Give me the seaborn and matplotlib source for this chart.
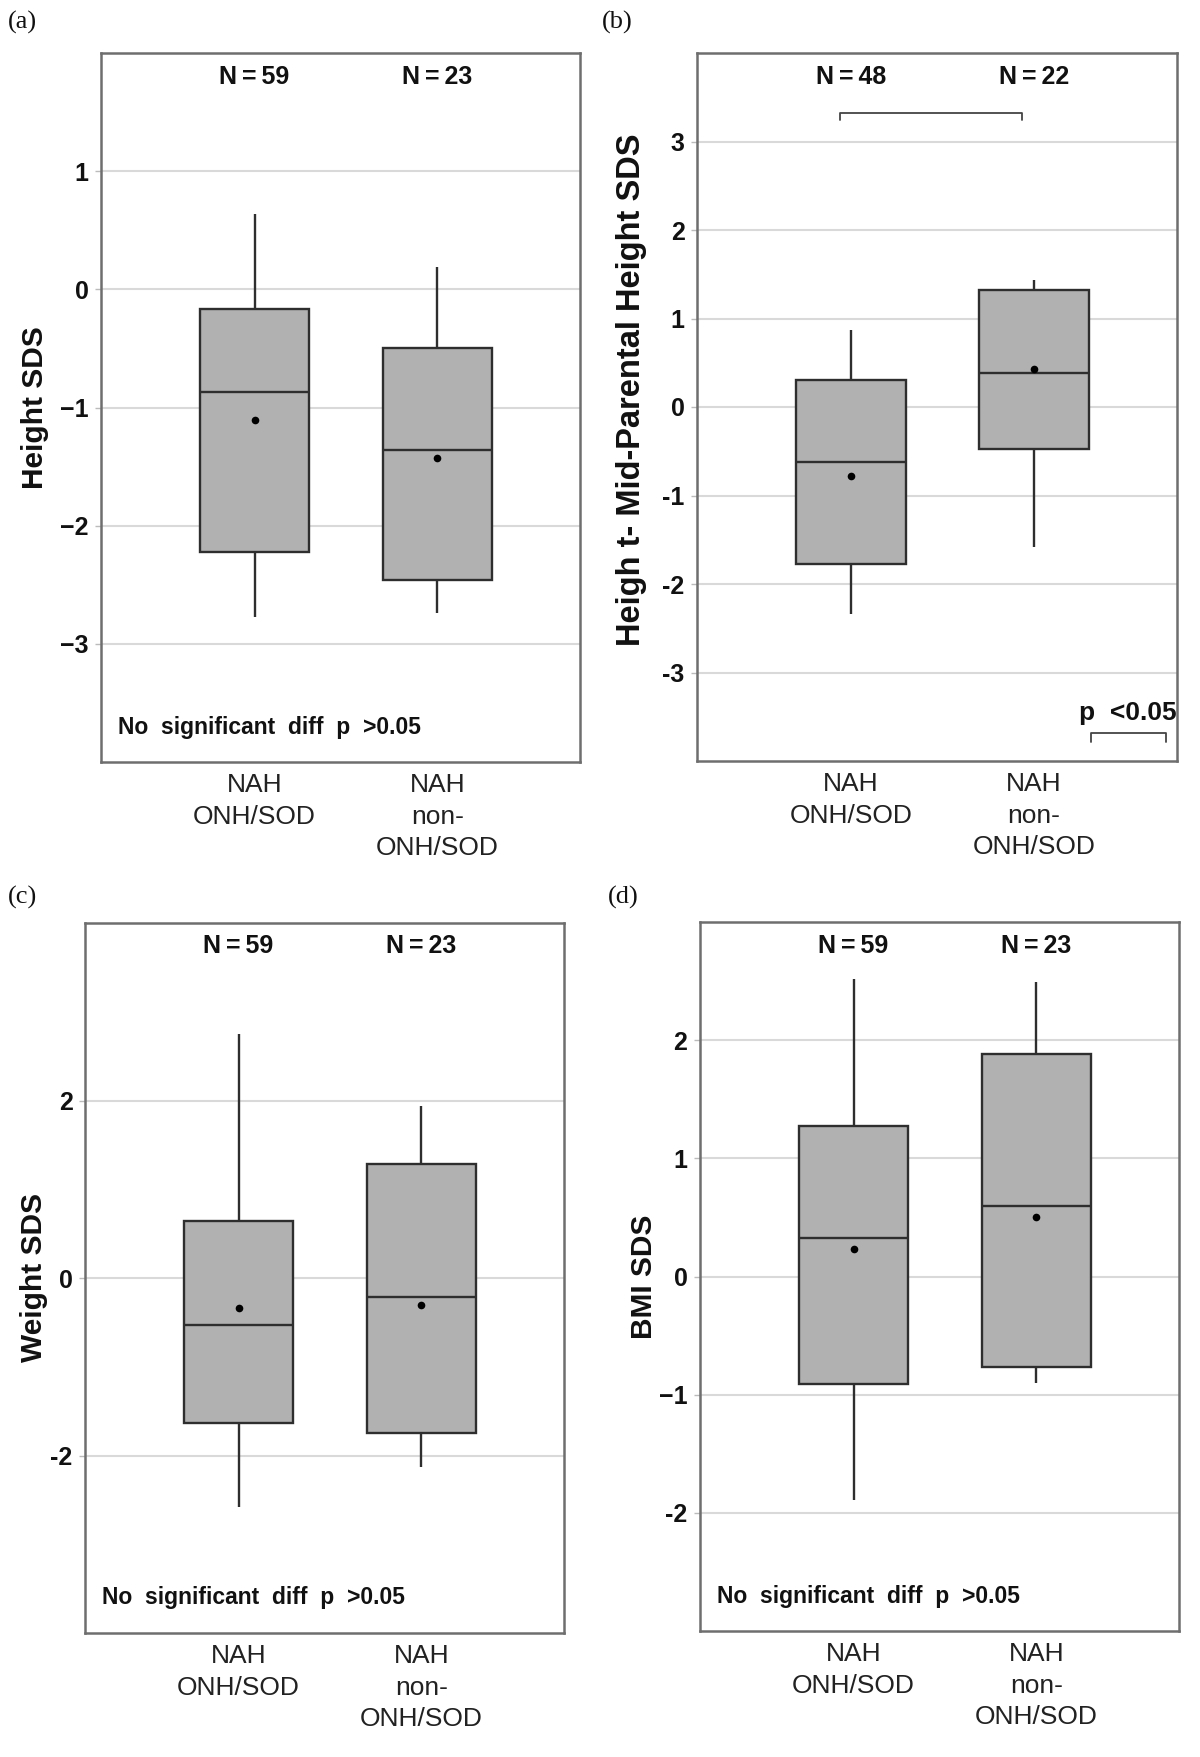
import numpy as np
import pandas as pd
import matplotlib
matplotlib.use("Agg")
import matplotlib.pyplot as plt
import seaborn as sns

# ---------------- data ----------------
groups = ["NAH\nONH/SOD", "NAH\nnon-\nONH/SOD"]

# five-number summaries per group: [whisker low, Q1, median, Q3, whisker high]
height_onh = [-2.77, -2.22, -0.87, -0.17, 0.64]
height_non = [-2.74, -2.46, -1.36, -0.50, 0.19]
height_means = [-1.11, -1.43]
height_n = ["N\u2009=\u200959", "N\u2009=\u200923"]

mph_onh = [-2.34, -1.77, -0.62, 0.31, 0.87]
mph_non = [-1.58, -0.47, 0.38, 1.32, 1.44]
mph_means = [-0.775, 0.425]
mph_n = ["N\u2009=\u200948", "N\u2009=\u200922"]

weight_onh = [-2.58, -1.63, -0.525, 0.645, 2.75]
weight_non = [-2.13, -1.75, -0.21, 1.28, 1.94]
weight_means = [-0.335, -0.30]
weight_n = ["N\u2009=\u200959", "N\u2009=\u200923"]

bmi_onh = [-1.89, -0.91, 0.33, 1.27, 2.52]
bmi_non = [-0.90, -0.77, 0.60, 1.886, 2.495]
bmi_means = [0.235, 0.50]
bmi_n = ["N\u2009=\u200959", "N\u2009=\u200923"]

ylabels = ["Height SDS", "Heigh t- Mid-Parental Height SDS", "Weight SDS", "BMI SDS"]
panel_letters = ["(a)", "(b)", "(c)", "(d)"]

ticks_a = [-3, -2, -1, 0, 1]
ticklabels_a = ["\u22123", "\u22122", "\u22121", "0", "1"]
ticks_b = [-3, -2, -1, 0, 1, 2, 3]
ticklabels_b = ["-3", "-2", "-1", "0", "1", "2", "3"]
ticks_c = [-2, 0, 2]
ticklabels_c = ["-2", "0", "2"]
ticks_d = [-2, -1, 0, 1, 2]
ticklabels_d = ["-2", "\u22121", "0", "1", "2"]

note_ns = "No  significant  diff  p  >0.05"
note_sig = "p  <0.05"

# ---------------- style ----------------
sns.set_theme(style="white")
plt.rcParams["font.family"] = ["Liberation Sans", "DejaVu Sans"]

W, H = 1200, 1757
fig = plt.figure(figsize=(W / 100, H / 100), dpi=100)
fig.patch.set_facecolor("white")

BOX_FILL = "#b1b1b1"
LINE = "#2e2e2e"
FRAME = "#6e6e6e"
GRID = "#d9d9d9"


def add_axes(left, top, right, bottom):
    return fig.add_axes([left / W, 1 - bottom / H, (right - left) / W, (bottom - top) / H])


panels = [
    dict(box=(101, 53, 580, 762), onh=height_onh, non=height_non, means=height_means,
         n=height_n, ylim=(-4.0, 2.0), ticks=ticks_a, tl=ticklabels_a, ny=1.80,
         note_y=-3.71, lab_xy=(-0.109, 0.5), lab_fs=21.5, letter_xy=(8, 22)),
    dict(box=(697, 53, 1177, 761), onh=mph_onh, non=mph_non, means=mph_means,
         n=mph_n, ylim=(-4.0, 4.0), ticks=ticks_b, tl=ticklabels_b, ny=3.73,
         note_y=None, lab_xy=(-0.105, 0.524), lab_fs=23.5, letter_xy=(602, 22)),
    dict(box=(85, 923, 564, 1633), onh=weight_onh, non=weight_non, means=weight_means,
         n=weight_n, ylim=(-4.0, 4.0), ticks=ticks_c, tl=ticklabels_c, ny=3.74,
         note_y=-3.60, lab_xy=(-0.077, 0.5), lab_fs=21.5, letter_xy=(8, 897)),
    dict(box=(700, 922, 1179, 1631), onh=bmi_onh, non=bmi_non, means=bmi_means,
         n=bmi_n, ylim=(-3.0, 3.0), ticks=ticks_d, tl=ticklabels_d, ny=2.80,
         note_y=-2.71, lab_xy=(-0.088, 0.5), lab_fs=21.5, letter_xy=(608, 897)),
]

for i, p in enumerate(panels):
    ax = add_axes(*p["box"])
    df = pd.DataFrame({
        "group": [groups[0]] * len(p["onh"]) + [groups[1]] * len(p["non"]),
        "value": p["onh"] + p["non"],
    })
    mdf = pd.DataFrame({"group": groups, "mean": p["means"]})

    ax.set_axisbelow(True)
    ax.yaxis.grid(True, color=GRID, linewidth=1.5)
    ax.xaxis.grid(False)

    sns.boxplot(data=df, x="group", y="value", order=groups, ax=ax,
                whis=np.inf, width=0.6, color=BOX_FILL, saturation=1,
                linecolor=LINE, linewidth=1.7, showcaps=False, fliersize=0)
    sns.stripplot(data=mdf, x="group", y="mean", order=groups, ax=ax,
                  jitter=False, color="black", size=5.5, zorder=5)

    ax.set_xlim(-0.84, 1.78)
    ax.set_ylim(*p["ylim"])
    ax.set_yticks(p["ticks"])
    ax.set_yticklabels(p["tl"], fontsize=18, fontweight="bold", color="#111111")
    ax.set_xticks([0, 1])
    ax.set_xticklabels(groups, fontsize=19, color="#222222", linespacing=1.4)
    ax.tick_params(axis="y", length=4, width=1, color="#bbbbbb", pad=5, left=True)
    ax.tick_params(axis="x", length=0, pad=8)
    ax.set_xlabel("")
    ax.set_ylabel(ylabels[i], fontsize=p["lab_fs"], fontweight="bold", color="#111111")
    ax.yaxis.set_label_coords(*p["lab_xy"])

    for sp in ax.spines.values():
        sp.set_visible(True)
        sp.set_color(FRAME)
        sp.set_linewidth(1.8)

    for x, t in enumerate(p["n"]):
        ax.text(x, p["ny"], t, ha="center", va="center", fontsize=18,
                fontweight="bold", color="#111111")

    if p["note_y"] is not None:
        ax.text(-0.745, p["note_y"], note_ns, ha="left", va="center",
                fontsize=16.5, fontweight="bold", color="#111111")
    else:
        # significance bracket between the two groups
        ax.plot([-0.06, -0.06, 0.935, 0.935], [3.24, 3.32, 3.32, 3.24],
                color="#444444", linewidth=1.3)
        ax.text(1.246, -3.54, note_sig, ha="left", va="baseline", fontsize=19,
                fontweight="bold", color="#111111", clip_on=False)
        ax.plot([1.31, 1.31, 1.72, 1.72], [-3.785, -3.687, -3.687, -3.785],
                color="#444444", linewidth=1.3)

    lx, ly = p["letter_xy"]
    fig.text(lx / W, 1 - ly / H, panel_letters[i], ha="left", va="center",
             fontsize=19, family=["Liberation Serif", "DejaVu Serif"], color="#111111")

fig.savefig("out.png", dpi=100, facecolor="white")
